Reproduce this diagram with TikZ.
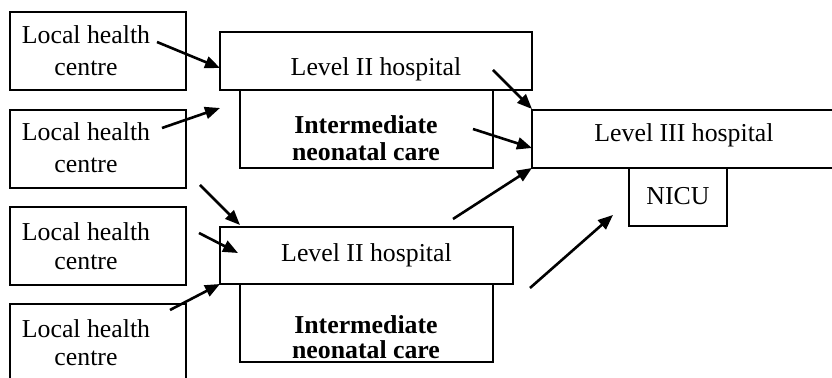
\documentclass[tikz,border=0pt]{standalone}
\usepackage{fontspec}
\setmainfont{Liberation Serif}
\usetikzlibrary{arrows.meta,fit}
\begin{document}
\begin{tikzpicture}[x=0.5pt,y=-0.5pt,
  box/.style={draw, line width=0.55pt, inner sep=0pt, rectangle},
  txt/.style={inner sep=0pt, align=center, font=\fontsize{12.9}{16}\selectfont},
  btxt/.style={inner sep=0pt, align=center, font=\fontsize{12.9}{13.5}\selectfont\bfseries},
  arr/.style={line width=1.3pt, -{Triangle[length=7.5pt,width=6pt]}}]
\useasboundingbox (0,0) rectangle (832,378);
\clip (0,0) rectangle (832,378);
% boxes
\node[box, fit={(10,12) (186,90)}] (lhc1) {};
\node[box, fit={(10,110) (186,188)}] (lhc2) {};
\node[box, fit={(10,207) (186,285)}] (lhc3) {};
\node[box, fit={(10,304) (186,392)}] (lhc4) {};
\node[box, fit={(220,32) (532,90)}] (l2a) {};
\node[box, fit={(240,90) (493,168)}] (int1) {};
\node[box, fit={(220,227) (513,284)}] (l2b) {};
\node[box, fit={(240,284) (493,362)}] (int2) {};
\node[box, fit={(532,110) (845,168)}] (l3) {};
\node[box, fit={(629,168) (727,226)}] (nicu) {};
% texts
\node[txt] (t1) at (86,50.2) {Local health\\centre};
\node[txt] (t2) at (86,147.2) {Local health\\centre};
\node[txt, font=\fontsize{12.9}{14.5}\selectfont] (t3) at (86,245.7) {Local health\\centre};
\node[txt, font=\fontsize{12.9}{14}\selectfont] (t4) at (86,342.2) {Local health\\centre};
\node[txt, anchor=base] (t5) at (376,76) {Level II hospital};
\node[txt, anchor=base] (t6) at (366.5,262) {Level II hospital};
\node[btxt] (t7) at (366,138) {Intermediate\\neonatal care};
\node[btxt, font=\fontsize{12.9}{12.5}\selectfont\bfseries] (t8) at (366,337) {Intermediate\\neonatal care};
\node[txt, anchor=base] (t9) at (684,142) {Level III hospital};
\node[txt, anchor=base] (t10) at (678,205) {NICU};
% arrow end points
\coordinate (s1) at (157,42);  \coordinate (e1) at (220,68);
\coordinate (s2) at (162,128); \coordinate (e2) at (220,108);
\coordinate (s3) at (200,185); \coordinate (e3) at (240,225);
\coordinate (s4) at (199,233); \coordinate (e4) at (238,253);
\coordinate (s5) at (170,310); \coordinate (e5) at (220,284);
\coordinate (s6) at (493,70);  \coordinate (e6) at (532,109);
\coordinate (s7) at (473,129); \coordinate (e7) at (532,148);
\coordinate (s8) at (453,219); \coordinate (e8) at (532,168);
\coordinate (s9) at (530,288); \coordinate (e9) at (613,215);
\foreach \i in {1,...,9} { \draw[arr] (s\i) -- (e\i); }
\end{tikzpicture}
\end{document}
